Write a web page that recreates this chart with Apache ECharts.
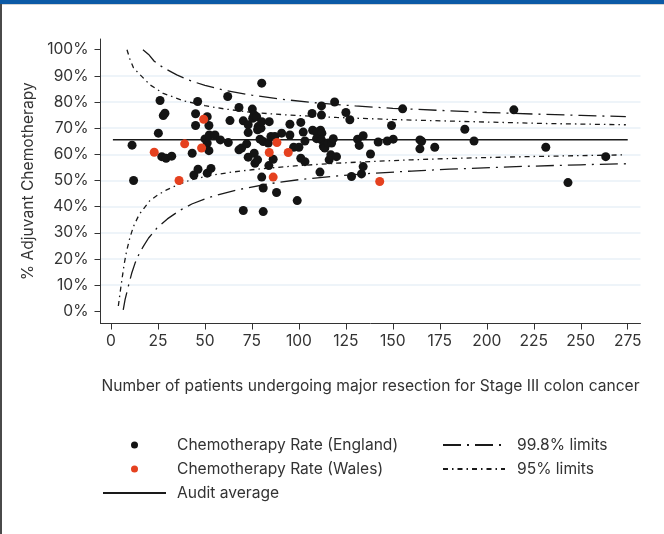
<!DOCTYPE html>
<html>
<head>
<meta charset="utf-8">
<script src="https://cdn.jsdelivr.net/npm/echarts@6/dist/echarts.min.js"></script>
<style>
  html, body { margin: 0; padding: 0; background: #fff; }
  #frame { position: relative; width: 664px; height: 534px; overflow: hidden; }
  #chart { position: absolute; left: 0; top: 0; width: 664px; height: 534px; }
  #topbar { position: absolute; left: 0; top: 0; width: 664px; height: 4px; background: #0c5aa6; }
  #topline { position: absolute; left: 0; top: 4px; width: 664px; height: 1px; background: #d4d4d4; }
  #leftbar { position: absolute; left: 0; top: 4px; width: 2px; height: 530px; background: #4a4a4a; }
</style>
</head>
<body>
<div id="frame">
  <div id="chart"></div>
  <div id="topbar"></div>
  <div id="topline"></div>
  <div id="leftbar"></div>
</div>
<script>
// [patients, % chemotherapy]
var englandPts = [
  [11.2, 63.5], [12, 50.0], [25.2, 68.1], [26.1, 80.6], [27.8, 74.8], [28.7, 75.7],
  [27, 59.1], [29.3, 58.5], [32.3, 59.3], [43.2, 60.4], [44.1, 52.1], [45, 75.5],
  [45, 71.0], [46.1, 80.2], [46.3, 54.3], [50, 65.9], [51.2, 74.4], [51.2, 64.3],
  [51.2, 52.8], [52.1, 71.0], [52.1, 61.4], [52.3, 67.4], [53.2, 54.6], [55.3, 67.4],
  [58.2, 65.5], [62.1, 82.1], [62.4, 64.5], [63.3, 72.9], [68.1, 77.9], [68.1, 61.7],
  [69.5, 62.4], [70.4, 72.8], [70.4, 38.5], [72.2, 64.0], [73, 71.3], [73, 68.3],
  [73, 58.9], [75.2, 77.3], [75.4, 73.8], [76.2, 75.1], [76.2, 60.4], [76.6, 56.6],
  [77.5, 74.4], [78, 57.9], [78.3, 70.6], [78, 69.4], [79.8, 70.0], [79.3, 65.8],
  [80.2, 87.2], [80.2, 72.5], [80.2, 51.3], [81, 64.9], [81, 47.1], [81, 38.1],
  [83.7, 64.3], [84.2, 72.5], [84, 55.7], [85.1, 66.8], [86.3, 58.1], [87.2, 66.8],
  [88.1, 45.4], [90.8, 68.1], [95.2, 71.5], [95.2, 67.4], [97.2, 62.7], [99.1, 42.3],
  [100, 62.7], [101, 72.2], [101, 58.5], [102.3, 68.5], [103.2, 65.1], [103.2, 57.2],
  [107, 75.6], [107.3, 69.2], [111.5, 69.2], [109.4, 68.5], [112.2, 68.1], [109.4, 66.0],
  [112, 75.0], [112, 78.5], [112, 65.5], [113, 63.0], [113.8, 63.6], [113.8, 62.4],
  [115.6, 64.3], [117.4, 64.3], [118.3, 66.0], [111.2, 53.2], [116.1, 57.9], [117, 59.8],
  [120, 59.1], [119, 80.0], [125, 76.0], [127.1, 73.2], [128, 51.5], [131.2, 65.8],
  [132.1, 63.4], [133.3, 52.5], [134.2, 67.1], [134.2, 55.3], [138.1, 60.1], [142.2, 64.7],
  [147, 65.1], [149.3, 71.0], [150.2, 65.8], [155.2, 77.4], [164.4, 65.5], [165.3, 65.0],
  [164.4, 62.1], [172.3, 62.7], [188.3, 69.6], [193.2, 65.1], [214.4, 77.0], [231.4, 62.7],
  [243.2, 49.2], [263.3, 59.1]
];
var walesPts = [
  [23, 60.8], [36.2, 50.0], [39.2, 64.0], [48.2, 62.4], [49.3, 73.4],
  [84.2, 60.7], [86.3, 51.3], [88.3, 64.5], [94.3, 60.7], [143, 49.6]
];
var auditAverage = [[1, 65.6], [275, 65.6]];

// funnel limits
var upper998 = [
  [17, 100], [20, 98.2], [23, 95.6], [26, 94], [30, 92.3], [35, 90.4], [40, 88.8],
  [45, 87.5], [50, 86.4], [60, 84.5], [75, 82.6], [90, 81.1], [110, 79.6], [130, 78.5],
  [150, 77.6], [175, 76.8], [200, 76.0], [225, 75.4], [250, 74.9], [274, 74.4]
];
var upper95 = [
  [8.5, 100], [10, 96.5], [12, 93], [15.4, 90.5], [20.7, 86.6], [27.8, 83.3],
  [38.5, 80.5], [50, 78.6], [60, 77.4], [75, 76.0], [95, 75.0], [120, 74.1],
  [150, 73.3], [191, 72.5], [230, 71.8], [274, 71.3]
];
var lower95 = [
  [3.9, 2], [5, 8], [6, 13], [7, 18], [8.3, 23], [10, 28], [12, 32.5], [15, 37],
  [20.7, 42.3], [25, 44.5], [29.6, 46.4], [36, 48.5], [42, 50.1], [52, 51.8],
  [63.3, 53.1], [75, 54.1], [85, 54.8], [100, 55.7], [120, 56.6], [140, 57.3],
  [160, 57.9], [180, 58.4], [220, 59.1], [250, 59.5], [274, 59.8]
];
var lower998 = [
  [6.5, 0.5], [7.5, 4.5], [9.2, 9.5], [11, 14.5], [12.8, 18.4], [15, 22], [17.2, 24.8],
  [20, 28], [24.3, 31.7], [30, 35.3], [36.7, 38.6], [43, 41], [50.9, 43.2], [60, 45.1],
  [68.6, 46.6], [84.6, 48.8], [100, 50.3], [120, 51.7], [140, 52.8], [160, 53.6],
  [180, 54.3], [220, 55.4], [250, 56], [274, 56.4]
];

var xTicks = [0, 25, 50, 75, 100, 125, 150, 175, 200, 225, 250, 275];
var yTicks = [0, 10, 20, 30, 40, 50, 60, 70, 80, 90, 100];

var font = 'Inter, "Noto Sans", sans-serif';
var fs = 15.6;
var ink = '#1a1a1a';
var dash998 = [18, 6, 2, 6];
var dash95 = [5, 4, 1.5, 4];

var chart = echarts.init(document.getElementById('chart'), null, { renderer: 'canvas' });

function limitLine(name, pts, dash) {
  return {
    name: name,
    type: 'line',
    data: pts,
    symbol: 'none',
    smooth: false,
    silent: true,
    z: 2,
    itemStyle: { color: ink },
    lineStyle: { color: ink, width: 1.3, type: dash }
  };
}

// legend entries for lines: hide the symbol, keep only the stroke
function lineEntry(name) {
  return { name: name, itemStyle: { opacity: 0 } };
}

var option = {
  animation: false,
  textStyle: { fontFamily: font },
  grid: { left: 100.5, right: 23.5, top: 39, bottom: 210.5, containLabel: false },
  xAxis: {
    type: 'value',
    min: -5.6,
    max: 281.8,
    name: 'Number of patients undergoing major resection for Stage III colon cancer',
    nameLocation: 'middle',
    nameGap: 55,
    nameTextStyle: { fontSize: fs, color: '#333', fontFamily: font },
    axisLine: { show: true, onZero: false, lineStyle: { color: '#333', width: 1 } },
    axisTick: { show: true, length: 6, customValues: xTicks, lineStyle: { color: '#333' } },
    axisLabel: { customValues: xTicks, margin: 10, fontSize: fs, color: '#333', fontFamily: font },
    splitLine: { show: false }
  },
  yAxis: {
    type: 'value',
    min: -4.7,
    max: 104.1,
    splitNumber: 11,
    name: '% Adjuvant Chemotherapy',
    nameLocation: 'middle',
    nameGap: 64,
    nameTextStyle: { fontSize: fs, color: '#333', fontFamily: font },
    axisLine: { show: true, onZero: false, lineStyle: { color: '#333', width: 1 } },
    axisTick: { show: true, length: 6, customValues: yTicks, lineStyle: { color: '#333' } },
    axisLabel: {
      customValues: yTicks, margin: 12, fontSize: fs, color: '#333', fontFamily: font,
      formatter: '{value}%'
    },
    splitLine: {
      show: true, showMinLine: false, showMaxLine: false,
      lineStyle: { color: '#e9f1f7', width: 1.5 }
    }
  },
  legend: [
    {
      data: ['Chemotherapy Rate (England)', 'Chemotherapy Rate (Wales)', lineEntry('Audit average')],
      orient: 'vertical',
      left: 97,
      top: 432,
      itemWidth: 63,
      itemHeight: 7,
      itemGap: 8,
      selectedMode: false,
      textStyle: { fontSize: fs, color: '#333', fontFamily: font, lineHeight: 16, padding: [0, 0, 0, 6] }
    },
    {
      data: [lineEntry('99.8% limits'), lineEntry('95% limits')],
      orient: 'vertical',
      left: 437,
      top: 432,
      itemWidth: 62,
      itemHeight: 7,
      itemGap: 8,
      selectedMode: false,
      textStyle: { fontSize: fs, color: '#333', fontFamily: font, lineHeight: 16, padding: [0, 0, 0, 7] }
    }
  ],
  series: [
    limitLine('99.8% limits', upper998, dash998),
    limitLine('99.8% limits', lower998, dash998),
    limitLine('95% limits', upper95, dash95),
    limitLine('95% limits', lower95, dash95),
    {
      name: 'Audit average',
      type: 'line',
      data: auditAverage,
      symbol: 'none',
      silent: true,
      z: 2,
      itemStyle: { color: ink },
      lineStyle: { color: ink, width: 1.5 }
    },
    {
      name: 'Chemotherapy Rate (England)',
      type: 'scatter',
      data: englandPts,
      symbolSize: 9,
      z: 3,
      itemStyle: { color: '#141414', opacity: 1 }
    },
    {
      name: 'Chemotherapy Rate (Wales)',
      type: 'scatter',
      data: walesPts,
      symbolSize: 9,
      z: 4,
      itemStyle: { color: '#e5411f', opacity: 1 }
    }
  ]
};

chart.setOption(option);
</script>
</body>
</html>
